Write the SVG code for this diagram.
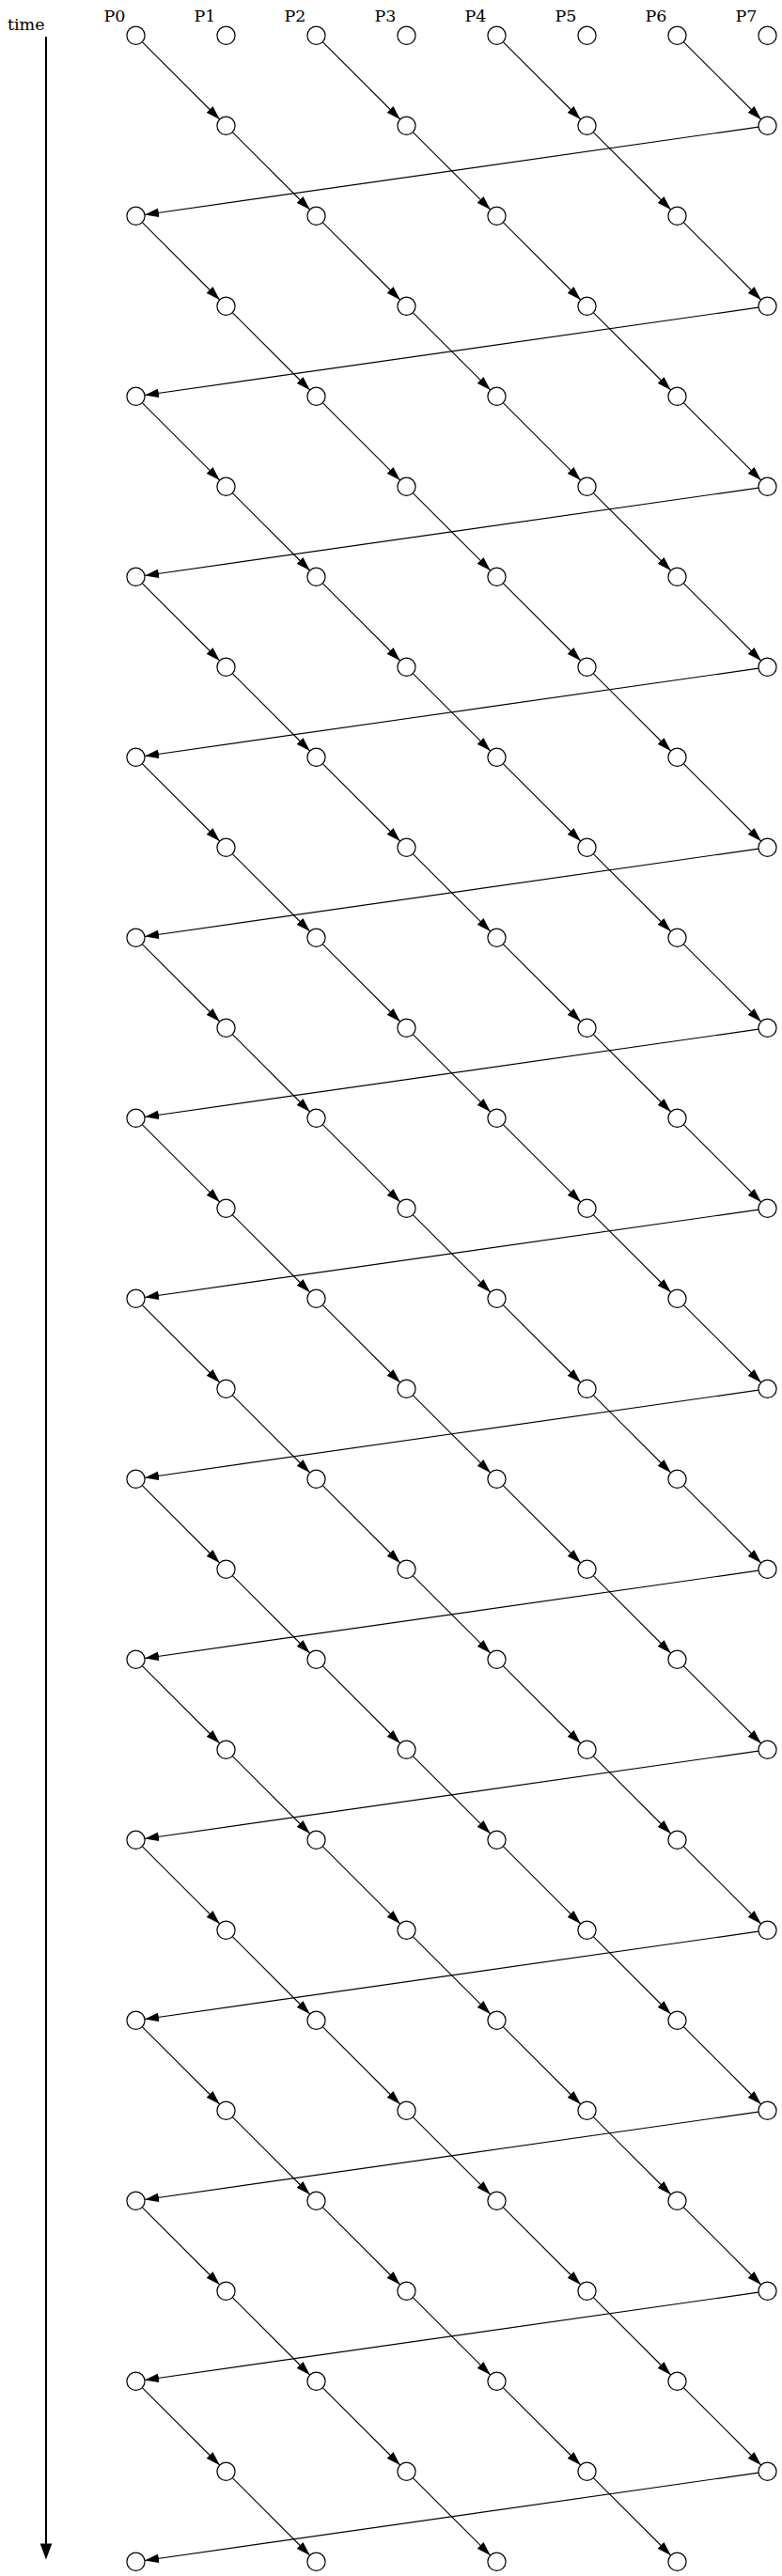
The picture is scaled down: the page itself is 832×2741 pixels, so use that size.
<svg xmlns="http://www.w3.org/2000/svg" width="832" height="2741" viewBox="0 0 832 2741">
<style>
text{font-family:"DejaVu Serif","Liberation Serif",serif;font-size:17.5px;fill:#000}
.lbl{text-anchor:end}
circle{fill:#fff;stroke:#000;stroke-width:1.2}
.e{fill:none;stroke:#000;stroke-width:1.1;marker-end:url(#ah)}
</style>
<defs>
<marker id="ah" markerUnits="userSpaceOnUse" markerWidth="15" markerHeight="10" refX="15" refY="5" orient="auto"><path d="M0,0.25 L15,5 L0,9.75 z" fill="#000"/></marker>
</defs>
<rect width="832" height="2741" fill="#fff"/>
<g id="time-axis">
<text class="lbl" x="47.5" y="31.7">time</text>
<line x1="49" y1="39" x2="49" y2="2708" stroke="#000" stroke-width="2"/>
<polygon points="42.7,2706.5 55.3,2706.5 49,2723.5" fill="#000"/>
</g>
<g id="labels">
<text class="lbl" x="133.5" y="23">P0</text>
<text class="lbl" x="229.5" y="23">P1</text>
<text class="lbl" x="325.5" y="23">P2</text>
<text class="lbl" x="421.5" y="23">P3</text>
<text class="lbl" x="517.5" y="23">P4</text>
<text class="lbl" x="613.5" y="23">P5</text>
<text class="lbl" x="709.5" y="23">P6</text>
<text class="lbl" x="805.5" y="23">P7</text>
</g>
<g id="connectors">
<path class="e" d="M151.3,44.6 l82.4,82.4"/><path class="e" d="M343.3,44.6 l82.4,82.4"/><path class="e" d="M535.3,44.6 l82.4,82.4"/><path class="e" d="M727.3,44.6 l82.4,82.4"/>
<path class="e" d="M247.3,140.6 l82.4,82.4"/><path class="e" d="M439.3,140.6 l82.4,82.4"/><path class="e" d="M631.3,140.6 l82.4,82.4"/><path class="e" d="M807,135.16 l-653,93.28"/>
<path class="e" d="M151.3,236.6 l82.4,82.4"/><path class="e" d="M343.3,236.6 l82.4,82.4"/><path class="e" d="M535.3,236.6 l82.4,82.4"/><path class="e" d="M727.3,236.6 l82.4,82.4"/>
<path class="e" d="M247.3,332.6 l82.4,82.4"/><path class="e" d="M439.3,332.6 l82.4,82.4"/><path class="e" d="M631.3,332.6 l82.4,82.4"/><path class="e" d="M807,327.16 l-653,93.28"/>
<path class="e" d="M151.3,428.6 l82.4,82.4"/><path class="e" d="M343.3,428.6 l82.4,82.4"/><path class="e" d="M535.3,428.6 l82.4,82.4"/><path class="e" d="M727.3,428.6 l82.4,82.4"/>
<path class="e" d="M247.3,524.6 l82.4,82.4"/><path class="e" d="M439.3,524.6 l82.4,82.4"/><path class="e" d="M631.3,524.6 l82.4,82.4"/><path class="e" d="M807,519.16 l-653,93.28"/>
<path class="e" d="M151.3,620.6 l82.4,82.4"/><path class="e" d="M343.3,620.6 l82.4,82.4"/><path class="e" d="M535.3,620.6 l82.4,82.4"/><path class="e" d="M727.3,620.6 l82.4,82.4"/>
<path class="e" d="M247.3,716.6 l82.4,82.4"/><path class="e" d="M439.3,716.6 l82.4,82.4"/><path class="e" d="M631.3,716.6 l82.4,82.4"/><path class="e" d="M807,711.16 l-653,93.28"/>
<path class="e" d="M151.3,812.6 l82.4,82.4"/><path class="e" d="M343.3,812.6 l82.4,82.4"/><path class="e" d="M535.3,812.6 l82.4,82.4"/><path class="e" d="M727.3,812.6 l82.4,82.4"/>
<path class="e" d="M247.3,908.6 l82.4,82.4"/><path class="e" d="M439.3,908.6 l82.4,82.4"/><path class="e" d="M631.3,908.6 l82.4,82.4"/><path class="e" d="M807,903.16 l-653,93.28"/>
<path class="e" d="M151.3,1004.6 l82.4,82.4"/><path class="e" d="M343.3,1004.6 l82.4,82.4"/><path class="e" d="M535.3,1004.6 l82.4,82.4"/><path class="e" d="M727.3,1004.6 l82.4,82.4"/>
<path class="e" d="M247.3,1100.6 l82.4,82.4"/><path class="e" d="M439.3,1100.6 l82.4,82.4"/><path class="e" d="M631.3,1100.6 l82.4,82.4"/><path class="e" d="M807,1095.16 l-653,93.28"/>
<path class="e" d="M151.3,1196.6 l82.4,82.4"/><path class="e" d="M343.3,1196.6 l82.4,82.4"/><path class="e" d="M535.3,1196.6 l82.4,82.4"/><path class="e" d="M727.3,1196.6 l82.4,82.4"/>
<path class="e" d="M247.3,1292.6 l82.4,82.4"/><path class="e" d="M439.3,1292.6 l82.4,82.4"/><path class="e" d="M631.3,1292.6 l82.4,82.4"/><path class="e" d="M807,1287.16 l-653,93.28"/>
<path class="e" d="M151.3,1388.6 l82.4,82.4"/><path class="e" d="M343.3,1388.6 l82.4,82.4"/><path class="e" d="M535.3,1388.6 l82.4,82.4"/><path class="e" d="M727.3,1388.6 l82.4,82.4"/>
<path class="e" d="M247.3,1484.6 l82.4,82.4"/><path class="e" d="M439.3,1484.6 l82.4,82.4"/><path class="e" d="M631.3,1484.6 l82.4,82.4"/><path class="e" d="M807,1479.16 l-653,93.28"/>
<path class="e" d="M151.3,1580.6 l82.4,82.4"/><path class="e" d="M343.3,1580.6 l82.4,82.4"/><path class="e" d="M535.3,1580.6 l82.4,82.4"/><path class="e" d="M727.3,1580.6 l82.4,82.4"/>
<path class="e" d="M247.3,1676.6 l82.4,82.4"/><path class="e" d="M439.3,1676.6 l82.4,82.4"/><path class="e" d="M631.3,1676.6 l82.4,82.4"/><path class="e" d="M807,1671.16 l-653,93.28"/>
<path class="e" d="M151.3,1772.6 l82.4,82.4"/><path class="e" d="M343.3,1772.6 l82.4,82.4"/><path class="e" d="M535.3,1772.6 l82.4,82.4"/><path class="e" d="M727.3,1772.6 l82.4,82.4"/>
<path class="e" d="M247.3,1868.6 l82.4,82.4"/><path class="e" d="M439.3,1868.6 l82.4,82.4"/><path class="e" d="M631.3,1868.6 l82.4,82.4"/><path class="e" d="M807,1863.16 l-653,93.28"/>
<path class="e" d="M151.3,1964.6 l82.4,82.4"/><path class="e" d="M343.3,1964.6 l82.4,82.4"/><path class="e" d="M535.3,1964.6 l82.4,82.4"/><path class="e" d="M727.3,1964.6 l82.4,82.4"/>
<path class="e" d="M247.3,2060.6 l82.4,82.4"/><path class="e" d="M439.3,2060.6 l82.4,82.4"/><path class="e" d="M631.3,2060.6 l82.4,82.4"/><path class="e" d="M807,2055.16 l-653,93.28"/>
<path class="e" d="M151.3,2156.6 l82.4,82.4"/><path class="e" d="M343.3,2156.6 l82.4,82.4"/><path class="e" d="M535.3,2156.6 l82.4,82.4"/><path class="e" d="M727.3,2156.6 l82.4,82.4"/>
<path class="e" d="M247.3,2252.6 l82.4,82.4"/><path class="e" d="M439.3,2252.6 l82.4,82.4"/><path class="e" d="M631.3,2252.6 l82.4,82.4"/><path class="e" d="M807,2247.16 l-653,93.28"/>
<path class="e" d="M151.3,2348.6 l82.4,82.4"/><path class="e" d="M343.3,2348.6 l82.4,82.4"/><path class="e" d="M535.3,2348.6 l82.4,82.4"/><path class="e" d="M727.3,2348.6 l82.4,82.4"/>
<path class="e" d="M247.3,2444.6 l82.4,82.4"/><path class="e" d="M439.3,2444.6 l82.4,82.4"/><path class="e" d="M631.3,2444.6 l82.4,82.4"/><path class="e" d="M807,2439.16 l-653,93.28"/>
<path class="e" d="M151.3,2540.6 l82.4,82.4"/><path class="e" d="M343.3,2540.6 l82.4,82.4"/><path class="e" d="M535.3,2540.6 l82.4,82.4"/><path class="e" d="M727.3,2540.6 l82.4,82.4"/>
<path class="e" d="M247.3,2636.6 l82.4,82.4"/><path class="e" d="M439.3,2636.6 l82.4,82.4"/><path class="e" d="M631.3,2636.6 l82.4,82.4"/><path class="e" d="M807,2631.16 l-653,93.28"/>
</g>
<g id="nodes">
<g id="r0-p0"><circle cx="144.5" cy="37.8" r="9.6"/></g><g id="r0-p1"><circle cx="240.5" cy="37.8" r="9.6"/></g><g id="r0-p2"><circle cx="336.5" cy="37.8" r="9.6"/></g><g id="r0-p3"><circle cx="432.5" cy="37.8" r="9.6"/></g><g id="r0-p4"><circle cx="528.5" cy="37.8" r="9.6"/></g><g id="r0-p5"><circle cx="624.5" cy="37.8" r="9.6"/></g><g id="r0-p6"><circle cx="720.5" cy="37.8" r="9.6"/></g><g id="r0-p7"><circle cx="816.5" cy="37.8" r="9.6"/></g>
<g id="r1-p1"><circle cx="240.5" cy="133.8" r="9.6"/></g><g id="r1-p3"><circle cx="432.5" cy="133.8" r="9.6"/></g><g id="r1-p5"><circle cx="624.5" cy="133.8" r="9.6"/></g><g id="r1-p7"><circle cx="816.5" cy="133.8" r="9.6"/></g>
<g id="r2-p0"><circle cx="144.5" cy="229.8" r="9.6"/></g><g id="r2-p2"><circle cx="336.5" cy="229.8" r="9.6"/></g><g id="r2-p4"><circle cx="528.5" cy="229.8" r="9.6"/></g><g id="r2-p6"><circle cx="720.5" cy="229.8" r="9.6"/></g>
<g id="r3-p1"><circle cx="240.5" cy="325.8" r="9.6"/></g><g id="r3-p3"><circle cx="432.5" cy="325.8" r="9.6"/></g><g id="r3-p5"><circle cx="624.5" cy="325.8" r="9.6"/></g><g id="r3-p7"><circle cx="816.5" cy="325.8" r="9.6"/></g>
<g id="r4-p0"><circle cx="144.5" cy="421.8" r="9.6"/></g><g id="r4-p2"><circle cx="336.5" cy="421.8" r="9.6"/></g><g id="r4-p4"><circle cx="528.5" cy="421.8" r="9.6"/></g><g id="r4-p6"><circle cx="720.5" cy="421.8" r="9.6"/></g>
<g id="r5-p1"><circle cx="240.5" cy="517.8" r="9.6"/></g><g id="r5-p3"><circle cx="432.5" cy="517.8" r="9.6"/></g><g id="r5-p5"><circle cx="624.5" cy="517.8" r="9.6"/></g><g id="r5-p7"><circle cx="816.5" cy="517.8" r="9.6"/></g>
<g id="r6-p0"><circle cx="144.5" cy="613.8" r="9.6"/></g><g id="r6-p2"><circle cx="336.5" cy="613.8" r="9.6"/></g><g id="r6-p4"><circle cx="528.5" cy="613.8" r="9.6"/></g><g id="r6-p6"><circle cx="720.5" cy="613.8" r="9.6"/></g>
<g id="r7-p1"><circle cx="240.5" cy="709.8" r="9.6"/></g><g id="r7-p3"><circle cx="432.5" cy="709.8" r="9.6"/></g><g id="r7-p5"><circle cx="624.5" cy="709.8" r="9.6"/></g><g id="r7-p7"><circle cx="816.5" cy="709.8" r="9.6"/></g>
<g id="r8-p0"><circle cx="144.5" cy="805.8" r="9.6"/></g><g id="r8-p2"><circle cx="336.5" cy="805.8" r="9.6"/></g><g id="r8-p4"><circle cx="528.5" cy="805.8" r="9.6"/></g><g id="r8-p6"><circle cx="720.5" cy="805.8" r="9.6"/></g>
<g id="r9-p1"><circle cx="240.5" cy="901.8" r="9.6"/></g><g id="r9-p3"><circle cx="432.5" cy="901.8" r="9.6"/></g><g id="r9-p5"><circle cx="624.5" cy="901.8" r="9.6"/></g><g id="r9-p7"><circle cx="816.5" cy="901.8" r="9.6"/></g>
<g id="r10-p0"><circle cx="144.5" cy="997.8" r="9.6"/></g><g id="r10-p2"><circle cx="336.5" cy="997.8" r="9.6"/></g><g id="r10-p4"><circle cx="528.5" cy="997.8" r="9.6"/></g><g id="r10-p6"><circle cx="720.5" cy="997.8" r="9.6"/></g>
<g id="r11-p1"><circle cx="240.5" cy="1093.8" r="9.6"/></g><g id="r11-p3"><circle cx="432.5" cy="1093.8" r="9.6"/></g><g id="r11-p5"><circle cx="624.5" cy="1093.8" r="9.6"/></g><g id="r11-p7"><circle cx="816.5" cy="1093.8" r="9.6"/></g>
<g id="r12-p0"><circle cx="144.5" cy="1189.8" r="9.6"/></g><g id="r12-p2"><circle cx="336.5" cy="1189.8" r="9.6"/></g><g id="r12-p4"><circle cx="528.5" cy="1189.8" r="9.6"/></g><g id="r12-p6"><circle cx="720.5" cy="1189.8" r="9.6"/></g>
<g id="r13-p1"><circle cx="240.5" cy="1285.8" r="9.6"/></g><g id="r13-p3"><circle cx="432.5" cy="1285.8" r="9.6"/></g><g id="r13-p5"><circle cx="624.5" cy="1285.8" r="9.6"/></g><g id="r13-p7"><circle cx="816.5" cy="1285.8" r="9.6"/></g>
<g id="r14-p0"><circle cx="144.5" cy="1381.8" r="9.6"/></g><g id="r14-p2"><circle cx="336.5" cy="1381.8" r="9.6"/></g><g id="r14-p4"><circle cx="528.5" cy="1381.8" r="9.6"/></g><g id="r14-p6"><circle cx="720.5" cy="1381.8" r="9.6"/></g>
<g id="r15-p1"><circle cx="240.5" cy="1477.8" r="9.6"/></g><g id="r15-p3"><circle cx="432.5" cy="1477.8" r="9.6"/></g><g id="r15-p5"><circle cx="624.5" cy="1477.8" r="9.6"/></g><g id="r15-p7"><circle cx="816.5" cy="1477.8" r="9.6"/></g>
<g id="r16-p0"><circle cx="144.5" cy="1573.8" r="9.6"/></g><g id="r16-p2"><circle cx="336.5" cy="1573.8" r="9.6"/></g><g id="r16-p4"><circle cx="528.5" cy="1573.8" r="9.6"/></g><g id="r16-p6"><circle cx="720.5" cy="1573.8" r="9.6"/></g>
<g id="r17-p1"><circle cx="240.5" cy="1669.8" r="9.6"/></g><g id="r17-p3"><circle cx="432.5" cy="1669.8" r="9.6"/></g><g id="r17-p5"><circle cx="624.5" cy="1669.8" r="9.6"/></g><g id="r17-p7"><circle cx="816.5" cy="1669.8" r="9.6"/></g>
<g id="r18-p0"><circle cx="144.5" cy="1765.8" r="9.6"/></g><g id="r18-p2"><circle cx="336.5" cy="1765.8" r="9.6"/></g><g id="r18-p4"><circle cx="528.5" cy="1765.8" r="9.6"/></g><g id="r18-p6"><circle cx="720.5" cy="1765.8" r="9.6"/></g>
<g id="r19-p1"><circle cx="240.5" cy="1861.8" r="9.6"/></g><g id="r19-p3"><circle cx="432.5" cy="1861.8" r="9.6"/></g><g id="r19-p5"><circle cx="624.5" cy="1861.8" r="9.6"/></g><g id="r19-p7"><circle cx="816.5" cy="1861.8" r="9.6"/></g>
<g id="r20-p0"><circle cx="144.5" cy="1957.8" r="9.6"/></g><g id="r20-p2"><circle cx="336.5" cy="1957.8" r="9.6"/></g><g id="r20-p4"><circle cx="528.5" cy="1957.8" r="9.6"/></g><g id="r20-p6"><circle cx="720.5" cy="1957.8" r="9.6"/></g>
<g id="r21-p1"><circle cx="240.5" cy="2053.8" r="9.6"/></g><g id="r21-p3"><circle cx="432.5" cy="2053.8" r="9.6"/></g><g id="r21-p5"><circle cx="624.5" cy="2053.8" r="9.6"/></g><g id="r21-p7"><circle cx="816.5" cy="2053.8" r="9.6"/></g>
<g id="r22-p0"><circle cx="144.5" cy="2149.8" r="9.6"/></g><g id="r22-p2"><circle cx="336.5" cy="2149.8" r="9.6"/></g><g id="r22-p4"><circle cx="528.5" cy="2149.8" r="9.6"/></g><g id="r22-p6"><circle cx="720.5" cy="2149.8" r="9.6"/></g>
<g id="r23-p1"><circle cx="240.5" cy="2245.8" r="9.6"/></g><g id="r23-p3"><circle cx="432.5" cy="2245.8" r="9.6"/></g><g id="r23-p5"><circle cx="624.5" cy="2245.8" r="9.6"/></g><g id="r23-p7"><circle cx="816.5" cy="2245.8" r="9.6"/></g>
<g id="r24-p0"><circle cx="144.5" cy="2341.8" r="9.6"/></g><g id="r24-p2"><circle cx="336.5" cy="2341.8" r="9.6"/></g><g id="r24-p4"><circle cx="528.5" cy="2341.8" r="9.6"/></g><g id="r24-p6"><circle cx="720.5" cy="2341.8" r="9.6"/></g>
<g id="r25-p1"><circle cx="240.5" cy="2437.8" r="9.6"/></g><g id="r25-p3"><circle cx="432.5" cy="2437.8" r="9.6"/></g><g id="r25-p5"><circle cx="624.5" cy="2437.8" r="9.6"/></g><g id="r25-p7"><circle cx="816.5" cy="2437.8" r="9.6"/></g>
<g id="r26-p0"><circle cx="144.5" cy="2533.8" r="9.6"/></g><g id="r26-p2"><circle cx="336.5" cy="2533.8" r="9.6"/></g><g id="r26-p4"><circle cx="528.5" cy="2533.8" r="9.6"/></g><g id="r26-p6"><circle cx="720.5" cy="2533.8" r="9.6"/></g>
<g id="r27-p1"><circle cx="240.5" cy="2629.8" r="9.6"/></g><g id="r27-p3"><circle cx="432.5" cy="2629.8" r="9.6"/></g><g id="r27-p5"><circle cx="624.5" cy="2629.8" r="9.6"/></g><g id="r27-p7"><circle cx="816.5" cy="2629.8" r="9.6"/></g>
<g id="r28-p0"><circle cx="144.5" cy="2725.8" r="9.6"/></g><g id="r28-p2"><circle cx="336.5" cy="2725.8" r="9.6"/></g><g id="r28-p4"><circle cx="528.5" cy="2725.8" r="9.6"/></g><g id="r28-p6"><circle cx="720.5" cy="2725.8" r="9.6"/></g>
</g>
</svg>
